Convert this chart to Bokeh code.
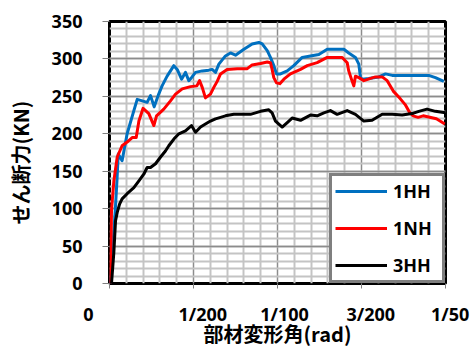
from bokeh.plotting import figure
from bokeh.models import FixedTicker, SingleIntervalTicker, Legend, LegendItem, Range1d
from bokeh.embed import file_html
from bokeh.resources import INLINE

# ---- data (x in rad, y in kN) ----
hh1_x = [0.00005, 0.0002, 0.00035, 0.00045, 0.00052, 0.00075, 0.00105, 0.00145, 0.00165, 0.00195,
         0.00224, 0.00244, 0.00266, 0.00293, 0.00313, 0.00343, 0.00383, 0.00403, 0.00429, 0.00452,
         0.00472, 0.00488, 0.00512, 0.00552, 0.00591, 0.00611, 0.00631, 0.00651, 0.0069, 0.0072,
         0.0075, 0.008, 0.00849, 0.00889, 0.00909, 0.00939, 0.00958, 0.00978, 0.00994, 0.01018,
         0.01058, 0.01097, 0.01147, 0.01196, 0.01246, 0.01296, 0.01345, 0.01395, 0.01424, 0.01464,
         0.01484, 0.01494, 0.01504, 0.01543, 0.01603, 0.01643, 0.01683, 0.01801, 0.019, 0.0194, 0.0199]
hh1_y = [0, 50, 100, 140, 173, 164, 200, 231, 246, 244,
         242, 251, 236, 253, 264, 277, 291, 286, 273, 282,
         271, 275, 282, 284, 285, 286, 282, 293, 304, 308,
         305, 313, 320, 322, 320, 311, 302, 291, 280, 280,
         284, 291, 302, 304, 306, 313, 313, 313, 308, 302,
         293, 275, 273, 274, 276, 280, 278, 278, 278, 275, 270]

nh1_x = [0.00005, 0.00012, 0.00026, 0.00046, 0.00075, 0.00105, 0.00135, 0.00159, 0.00175, 0.002,
         0.00234, 0.00264, 0.0028, 0.00323, 0.00363, 0.00393, 0.00433, 0.00482, 0.0052, 0.00536,
         0.00552, 0.00571, 0.00601, 0.00621, 0.00641, 0.00661, 0.007, 0.0076, 0.0082, 0.00849,
         0.00899, 0.00939, 0.00958, 0.00968, 0.00978, 0.00994, 0.01014, 0.01038, 0.01077, 0.01137,
         0.01177, 0.01236, 0.01296, 0.01385, 0.01415, 0.01424, 0.0144, 0.01454, 0.01464, 0.01484,
         0.01514, 0.01554, 0.01583, 0.01623, 0.01653, 0.01689, 0.0173, 0.0176, 0.01785, 0.01807,
         0.01837, 0.01867, 0.01906, 0.01946, 0.01996]
nh1_y = [0, 98, 137, 169, 184, 189, 195, 195, 217, 234,
         227, 211, 224, 233, 244, 253, 260, 263, 264, 271,
         262, 248, 253, 262, 270, 280, 286, 287, 287, 292,
         294, 296, 295, 286, 275, 268, 267, 273, 280, 286,
         291, 295, 302, 302, 295, 284, 273, 264, 277, 275,
         271, 274, 276, 276, 271, 257, 247, 239, 229, 224,
         222, 224, 222, 220, 213]

hh3_x = [0.00012, 0.00026, 0.00036, 0.00046, 0.0006, 0.00075, 0.00105, 0.00145, 0.00175, 0.00204,
         0.00224, 0.00244, 0.00274, 0.00304, 0.00333, 0.00353, 0.00383, 0.00413, 0.00452, 0.00488,
         0.00512, 0.00542, 0.00571, 0.00601, 0.00631, 0.00661, 0.0069, 0.0074, 0.00839, 0.00899,
         0.00948, 0.00968, 0.00988, 0.01028, 0.01058, 0.01087, 0.01137, 0.01196, 0.01236, 0.01276,
         0.01315, 0.01355, 0.01415, 0.01464, 0.01514, 0.01563, 0.01623, 0.01683, 0.01742, 0.01801,
         0.01841, 0.0189, 0.0194, 0.02]
hh3_y = [0, 42, 84, 95, 106, 113, 120, 128, 137, 146,
         155, 155, 160, 169, 177, 184, 193, 200, 204, 211,
         202, 209, 213, 217, 220, 222, 224, 226, 226, 230,
         232, 228, 217, 209, 215, 221, 218, 225, 224, 228,
         231, 226, 231, 226, 217, 218, 226, 226, 225, 227,
         230, 233, 230, 228]

x_ticks = [0, 0.005, 0.01, 0.015, 0.02]
x_tick_labels = ["0", "1/200", "1/100", "3/200", "1/50"]
x_minor = [0.001, 0.002, 0.003, 0.004, 0.006, 0.007, 0.008, 0.009, 0.011, 0.012, 0.013, 0.014,
           0.016, 0.017, 0.018, 0.019]
series_names = ["1HH", "1NH", "3HH"]
series_colors = ["#0070C0", "#FF0000", "#000000"]

NB = "\u00a0"
# Excel fraction number format pads labels with blank digit slots
label_pad = [("", NB * 9), (NB * 4, ""), (NB * 3, ""), (NB * 4, ""), (NB * 2, "")]

TICK_FONT = "Open Sans"
JP_FONT = "Noto Sans CJK JP"

p = figure(width=476, height=350, output_backend="svg", toolbar_location=None,
           x_range=Range1d(0, 0.02), y_range=Range1d(0, 350),
           min_border_left=109, min_border_right=31, min_border_top=21, min_border_bottom=67,
           background_fill_color="white", border_fill_color="white")

p.outline_line_color = "black"
p.outline_line_width = 3
p.outline_line_alpha = 1

p.xaxis.ticker = FixedTicker(ticks=x_ticks, minor_ticks=x_minor)
p.xaxis.major_label_overrides = {t: a + lab + b for t, lab, (a, b) in zip(x_ticks, x_tick_labels, label_pad)}
p.yaxis.ticker = SingleIntervalTicker(interval=50, num_minor_ticks=5)

for ax in (p.xaxis, p.yaxis):
    ax.axis_line_color = None
    ax.major_tick_line_color = "#808080"
    ax.major_tick_line_width = 1
    ax.major_tick_in = 0
    ax.minor_tick_line_color = None
    ax.major_label_text_font = TICK_FONT
    ax.major_label_text_font_style = "bold"
    ax.major_label_text_font_size = "18px"
    ax.major_label_text_color = "black"
    ax.axis_label_text_font = JP_FONT
    ax.axis_label_text_font_style = "bold"
    ax.axis_label_text_font_size = "20px"
    ax.axis_label_text_color = "black"

p.xaxis.major_tick_out = 5
p.xaxis.major_label_standoff = 13
p.xaxis.axis_label = "部材変形角(rad)"
p.xaxis.axis_label_standoff = -10

p.yaxis.major_tick_out = 7
p.yaxis.major_label_standoff = 20
p.yaxis.axis_label = "せん断力(KN)" + "\u3000"
p.yaxis.axis_label_standoff = 14

for g in (p.xgrid, p.ygrid):
    g.grid_line_color = "#8c8c8c"
    g.grid_line_width = 1.5
    g.minor_grid_line_color = "#c4c4c4"
    g.minor_grid_line_width = 2

renderers = []
for xs, ys, col in zip([hh1_x, nh1_x, hh3_x], [hh1_y, nh1_y, hh3_y], series_colors):
    r = p.line(xs, ys, line_color=col, line_width=3, line_join="round")
    renderers.append(r)

legend = Legend(items=[LegendItem(label=n, renderers=[r]) for n, r in zip(series_names, renderers)],
                location="bottom_right", margin=0, padding=3, spacing=13,
                glyph_width=52, glyph_height=20, label_standoff=6, label_width=46,
                border_line_color="black", border_line_width=3,
                background_fill_color="white", background_fill_alpha=1,
                label_text_font=TICK_FONT, label_text_font_style="bold",
                label_text_font_size="18px", label_text_color="black")
p.add_layout(legend)

open("out.html", "w").write(file_html(p, INLINE))
